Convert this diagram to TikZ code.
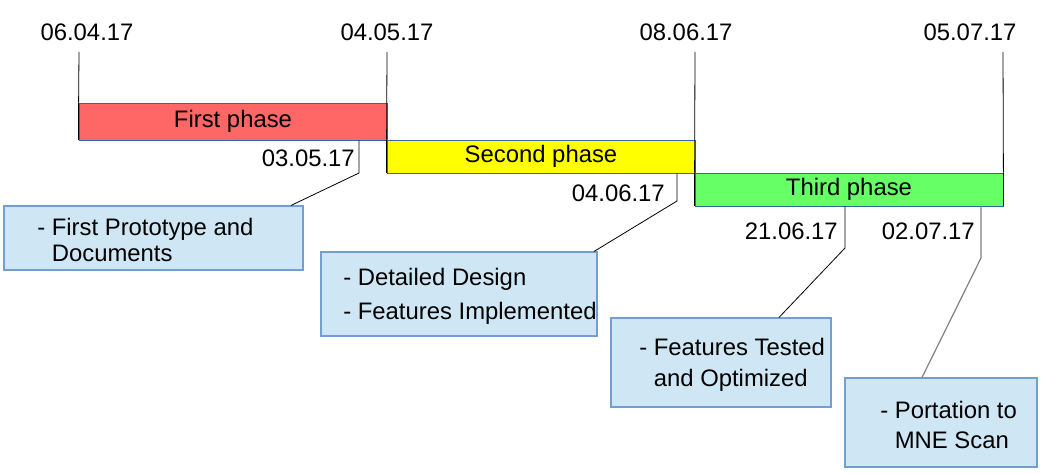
\documentclass[tikz,border=0pt]{standalone}
\usepackage{fontspec}
\setmainfont{Liberation Sans}
\usepackage{xcolor}
\definecolor{barred}{HTML}{FF6666}
\definecolor{baryellow}{HTML}{FFFF00}
\definecolor{bargreen}{HTML}{66FF66}
\definecolor{barline}{HTML}{3465A4}
\definecolor{notefill}{HTML}{CFE7F5}
\definecolor{noteline}{HTML}{729FCF}

\tikzset{
  phasebar/.style={draw=barline, line width=0.6pt, minimum width=231pt, inner sep=0pt, font=\fontsize{17.9}{21}\selectfont},
  datelabel/.style={inner sep=0pt, font=\fontsize{17.9}{21}\selectfont},
  notebox/.style={draw=noteline, line width=0.8pt, fill=notefill, inner sep=0pt},
  notetext/.style={inner sep=0pt, align=left, anchor=west, yshift=-1.5pt, font=\fontsize{17.9}{21}\selectfont},
  tick/.style={black, line width=0.6pt},
  leader/.style={black, line width=0.6pt}
}

\begin{document}
\begin{tikzpicture}[x=0.75pt, y=-0.75pt]
  \useasboundingbox (0,0) rectangle (1042,474);

  % dates on top
  \node [datelabel] (d1) at (87,32) {06.04.17};
  \node [datelabel] (d2) at (387,32) {04.05.17};
  \node [datelabel] (d3) at (686,32) {08.06.17};
  \node [datelabel] (d4) at (970,32) {05.07.17};
  \coordinate (t1) at (79,52);
  \coordinate (t2) at (387,52);
  \coordinate (t3) at (695,52);
  \coordinate (t4) at (1003,52);

  % phases
  \node [phasebar, fill=barred, minimum height=27.75pt] (first) at (233,121.5) {First phase};
  \node [phasebar, fill=baryellow, minimum height=24.75pt] (second) at (541,156.5) {Second phase};
  \node [phasebar, fill=bargreen, minimum height=24.75pt] (third) at (849,189.5) {Third phase};

  \draw [tick] (t1) -- (first.north west);
  \draw [tick] (t2) -- (second.north west);
  \draw [tick] (t3) -- (third.north west);
  \draw [tick] (t4) -- (third.north east);
  \draw [black, line width=0.9pt] (first.north west) -- (first.south west);
  \draw [black, line width=0.9pt] (second.north west) -- (second.south west);
  \draw [black, line width=0.9pt] (third.north west) -- (third.south west);
  \draw [black, line width=0.9pt] (third.north east) -- (third.south east);

  % milestones
  \node [datelabel, anchor=east] (m1) at (355,158) {03.05.17};
  \node [datelabel, anchor=east] (m2) at (665,193) {04.06.17};
  \node [datelabel, anchor=east] (m3) at (838,231) {21.06.17};
  \node [datelabel, anchor=east] (m4) at (975,231) {02.07.17};

  \node [notebox, minimum width=224.25pt, minimum height=48pt] (n1) at (153.5,238) {};
  \node [notetext] (x1) at (37,238) {- First Prototype and\\[-1.5pt]\phantom{- }Documents};
  \node [notebox, minimum width=207pt, minimum height=63pt] (n2) at (459,294) {};
  \node [notetext] (x2) at (343,294) {- Detailed Design\\[4.5pt]- Features Implemented};
  \node [notebox, minimum width=165pt, minimum height=66.75pt] (n3) at (721,362.5) {};
  \node [notetext] (x3) at (639,362.5) {- Features Tested\\[2.25pt]\phantom{- }and Optimized};
  \node [notebox, minimum width=144pt, minimum height=66.75pt] (n4) at (941,422.5) {};
  \node [notetext] (x4) at (880,422.5) {- Portation to\\[1.5pt]\phantom{- }MNE Scan};

  \coordinate (k1) at (359,173);
  \coordinate (k2) at (677,201);
  \coordinate (k3) at (845,248);
  \coordinate (k4) at (981,258);

  \draw [leader] (first.south -| k1) -- (k1) -- (n1.north -| 291,0);
  \draw [leader] (second.south -| k2) -- (k2) -- (n2.north -| 594,0);
  \draw [leader] (third.south -| k3) -- (k3) -- (n3.north -| 779,0);
  \draw [leader, gray, line width=0.9pt] (third.south -| k4) -- (k4) -- (n4.north -| 922,0);
\end{tikzpicture}
\end{document}
